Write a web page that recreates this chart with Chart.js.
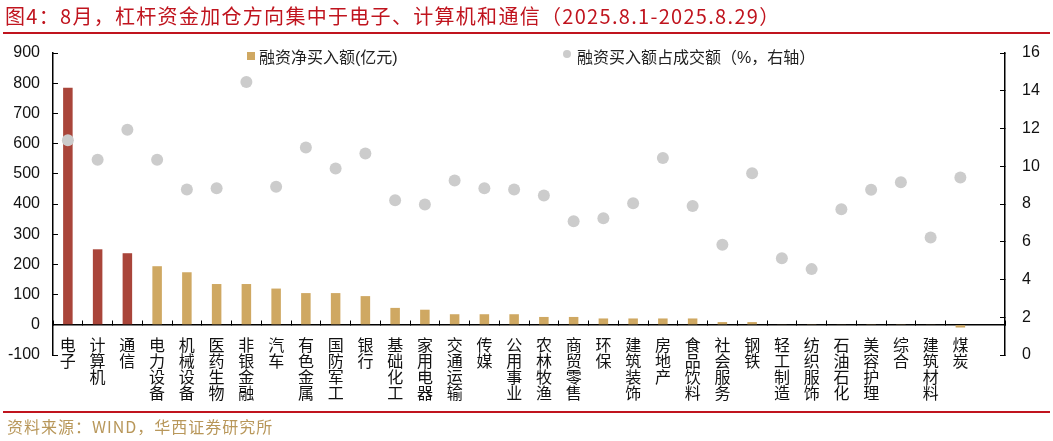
<!DOCTYPE html>
<html>
<head>
<meta charset="utf-8">
<script src="https://cdn.jsdelivr.net/npm/chart.js@4.4.1/dist/chart.umd.min.js"></script>
<style>
body { margin: 0; background: #fff; font-family: 'Liberation Sans', 'Noto Sans CJK SC', sans-serif; }
#wrap { position: relative; width: 1053px; height: 441px; overflow: hidden; }
#title { position: absolute; left: 5px; top: 4px; font-size: 20px; line-height: 24px; letter-spacing: 1.3px; color: #C0141E; font-family: 'Noto Sans CJK SC', sans-serif; white-space: nowrap; }
#titleLine { position: absolute; left: 3px; top: 32px; width: 1047px; height: 2px; background: #C0141E; }
#chart { position: absolute; left: 0; top: 0; }
.lg-text { position: absolute; top: 49px; font-size: 16px; line-height: 18px; color: #222; white-space: nowrap; font-family: 'Liberation Sans', 'Noto Sans CJK SC', sans-serif; }
#lgBox { position: absolute; left: 247px; top: 52px; width: 8px; height: 8px; background: #CFA862; }
#lgDot { position: absolute; left: 563px; top: 50px; width: 8px; height: 8px; border-radius: 50%; background: #CCCCCC; }
#footLine { position: absolute; left: 3px; top: 411px; width: 1047px; height: 2px; background: #C0141E; }
#source { position: absolute; left: 7px; top: 416px; font-size: 16px; line-height: 20px; letter-spacing: 1px; color: #B8975A; font-family: 'Noto Sans CJK SC', sans-serif; white-space: nowrap; }
</style>
</head>
<body>
<div id="wrap">
  <canvas id="chart" width="1053" height="441"></canvas>
  <div id="title">图4：8月，杠杆资金加仓方向集中于电子、计算机和通信（2025.8.1-2025.8.29）</div>
  <div id="titleLine"></div>
  <div id="lgBox"></div>
  <div class="lg-text" style="left:259px">融资净买入额(亿元)</div>
  <div id="lgDot"></div>
  <div class="lg-text" style="left:577px">融资买入额占成交额（%，右轴）</div>
  <div id="footLine"></div>
  <div id="source">资料来源：WIND，华西证券研究所</div>
</div>
<script>
// 行业分类
var categories = ['电子', '计算机', '通信', '电力设备', '机械设备', '医药生物', '非银金融', '汽车',
    '有色金属', '国防军工', '银行', '基础化工', '家用电器', '交通运输', '传媒', '公用事业',
    '农林牧渔', '商贸零售', '环保', '建筑装饰', '房地产', '食品饮料', '社会服务', '钢铁',
    '轻工制造', '纺织服饰', '石油石化', '美容护理', '综合', '建筑材料', '煤炭'];

// 融资净买入额（亿元，左轴）
var netBuy = [785, 250, 237, 194, 174, 135, 135, 120, 105, 105, 95, 56, 50, 35, 35, 35,
    26, 26, 21, 21, 21, 21, 9, 9, 2, 1, 2, 1, 1, 2, -9];

// 融资买入额占成交额（%，右轴）
var buyRatio = [11.38, 10.35, 11.94, 10.35, 8.77, 8.84, 14.46, 8.91, 10.99, 9.88, 10.67, 8.2,
    7.97, 9.24, 8.84, 8.77, 8.45, 7.09, 7.25, 8.04, 10.44, 7.9, 5.84, 9.63, 5.12, 4.55,
    7.72, 8.75, 9.15, 6.23, 9.4];

// 坐标轴范围
var leftRange = [-100, 900];
var rightRange = [0, 16];

// 前三个行业高亮
var highlightCount = 3;

var colors = {
    highlight: '#A9453A',
    bar: '#CFA862',
    dot: '#CCCCCC',
    axis: '#000000',
    text: '#111111'
};

var tickFont = { family: "'Liberation Sans', 'Noto Sans CJK SC', sans-serif", size: 16 };
var catFont = { family: "'Noto Sans CJK SC', sans-serif", size: 16, lineHeight: 1.0 };

var barColors = netBuy.map(function (v, i) {
    return i < highlightCount ? colors.highlight : colors.bar;
});

// 原图横轴末尾留有一个空位
var axisLabels = categories.map(function (c) { return c.split(''); }).concat(['']);

var ctx = document.getElementById('chart');
new Chart(ctx, {
    type: 'bar',
    data: {
        labels: axisLabels,
        datasets: [{
            type: 'line',
            label: '融资买入额占成交额（%，右轴）',
            data: buyRatio,
            yAxisID: 'y1',
            showLine: false,
            pointRadius: 6,
            pointHoverRadius: 6,
            pointBorderWidth: 0,
            pointBackgroundColor: colors.dot,
            backgroundColor: colors.dot,
            borderColor: colors.dot,
            order: 0
        }, {
            label: '融资净买入额(亿元)',
            data: netBuy,
            yAxisID: 'y',
            backgroundColor: barColors,
            borderWidth: 0,
            barPercentage: 0.32,
            categoryPercentage: 1.0,
            order: 1
        }]
    },
    options: {
        responsive: false,
        animation: false,
        layout: { padding: { left: 0, right: 0, top: 53, bottom: 86 } },
        plugins: {
            legend: { display: false },
            tooltip: { enabled: false }
        },
        scales: {
            x: {
                position: { y: 0 },
                grid: {
                    display: true, drawOnChartArea: false, tickLength: -5, color: colors.axis, lineWidth: 1,
                    // 最后一个空位不画刻度
                    tickColor: function (c) { return c.index >= categories.length ? 'rgba(0,0,0,0)' : colors.axis; }
                },
                border: { display: true, color: colors.axis, width: 1.5 },
                ticks: { font: catFont, color: colors.text, padding: 17, maxRotation: 0, autoSkip: false }
            },
            y: {
                position: 'left',
                min: leftRange[0],
                max: leftRange[1],
                afterFit: function (s) { s.width = 53; },
                grid: { display: true, drawOnChartArea: false, tickLength: -5, color: colors.axis, lineWidth: 1 },
                border: { display: true, color: colors.axis, width: 1.5 },
                ticks: { stepSize: 100, font: tickFont, color: colors.text, padding: 18 }
            },
            y1: {
                position: 'right',
                min: rightRange[0],
                max: rightRange[1],
                afterFit: function (s) { s.width = 48; },
                grid: { display: true, drawOnChartArea: false, tickLength: -5, color: colors.axis, lineWidth: 1 },
                border: { display: true, color: colors.axis, width: 1.5 },
                ticks: { stepSize: 2, font: tickFont, color: colors.text, padding: 22 }
            }
        }
    }
});
</script>
</body>
</html>
